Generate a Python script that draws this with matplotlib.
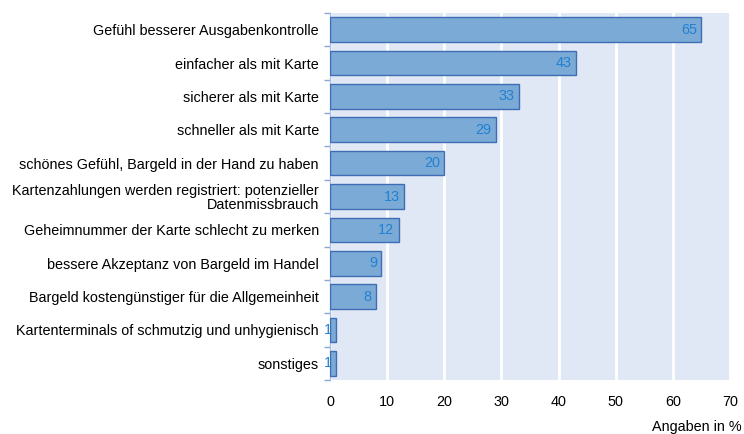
import numpy as np
import matplotlib
matplotlib.use("Agg")
import matplotlib.pyplot as plt

kategorien = [
    "Gefühl besserer Ausgabenkontrolle",
    "einfacher als mit Karte",
    "sicherer als mit Karte",
    "schneller als mit Karte",
    "schönes Gefühl, Bargeld in der Hand zu haben",
    "Kartenzahlungen werden registriert: potenzieller\nDatenmissbrauch",
    "Geheimnummer der Karte schlecht zu merken",
    "bessere Akzeptanz von Bargeld im Handel",
    "Bargeld kostengünstiger für die Allgemeinheit",
    "Kartenterminals of schmutzig und unhygienisch",
    "sonstiges",
]
werte = [65, 43, 33, 29, 20, 13, 12, 9, 8, 1, 1]
x_ticks = [0, 10, 20, 30, 40, 50, 60, 70]

plt.rcParams["font.family"] = ["Liberation Sans", "DejaVu Sans"]
fs = 10.4

fig = plt.figure(figsize=(7.44, 4.34), dpi=100)
ax = fig.add_axes([330 / 744, 1 - 380 / 434, 400 / 744, 367 / 434])
ax.set_facecolor("#E1E8F5")

y = np.arange(len(kategorien))
ax.barh(y, werte, height=0.74, color="#7AAAD5", edgecolor="#3E6DB5", linewidth=1.0, zorder=3)

for yi, w in zip(y, werte):
    ax.annotate(str(w), xy=(w, yi), xytext=(-3, 0), textcoords="offset points",
                ha="right", va="center", fontsize=fs, color="#2281D0", zorder=4,
                annotation_clip=False)

ax.set_xlim(0, 70)
ax.set_ylim(len(kategorien) - 0.5, -0.5)
ax.set_xticks(x_ticks)
ax.xaxis.grid(True, color="white", linewidth=2, zorder=1)
ax.set_axisbelow(True)
ax.tick_params(axis="x", length=0, pad=11, labelsize=fs)

ax.set_yticks(y)
ax.set_yticklabels(kategorien, fontsize=fs, linespacing=1.0)
ax.tick_params(axis="y", length=0, pad=8)
ax.set_yticks(np.arange(-0.5, len(kategorien)), minor=True)
ax.tick_params(axis="y", which="minor", length=4, color="#8DA6D6", width=1)

for s in ["top", "right", "bottom"]:
    ax.spines[s].set_visible(False)
ax.spines["left"].set_color("#A9BDE3")
ax.spines["left"].set_linewidth(1)

fig.text(742 / 744, 1 - 427 / 434, "Angaben in %", ha="right", va="center", fontsize=fs)

fig.savefig("out.png", dpi=100)
